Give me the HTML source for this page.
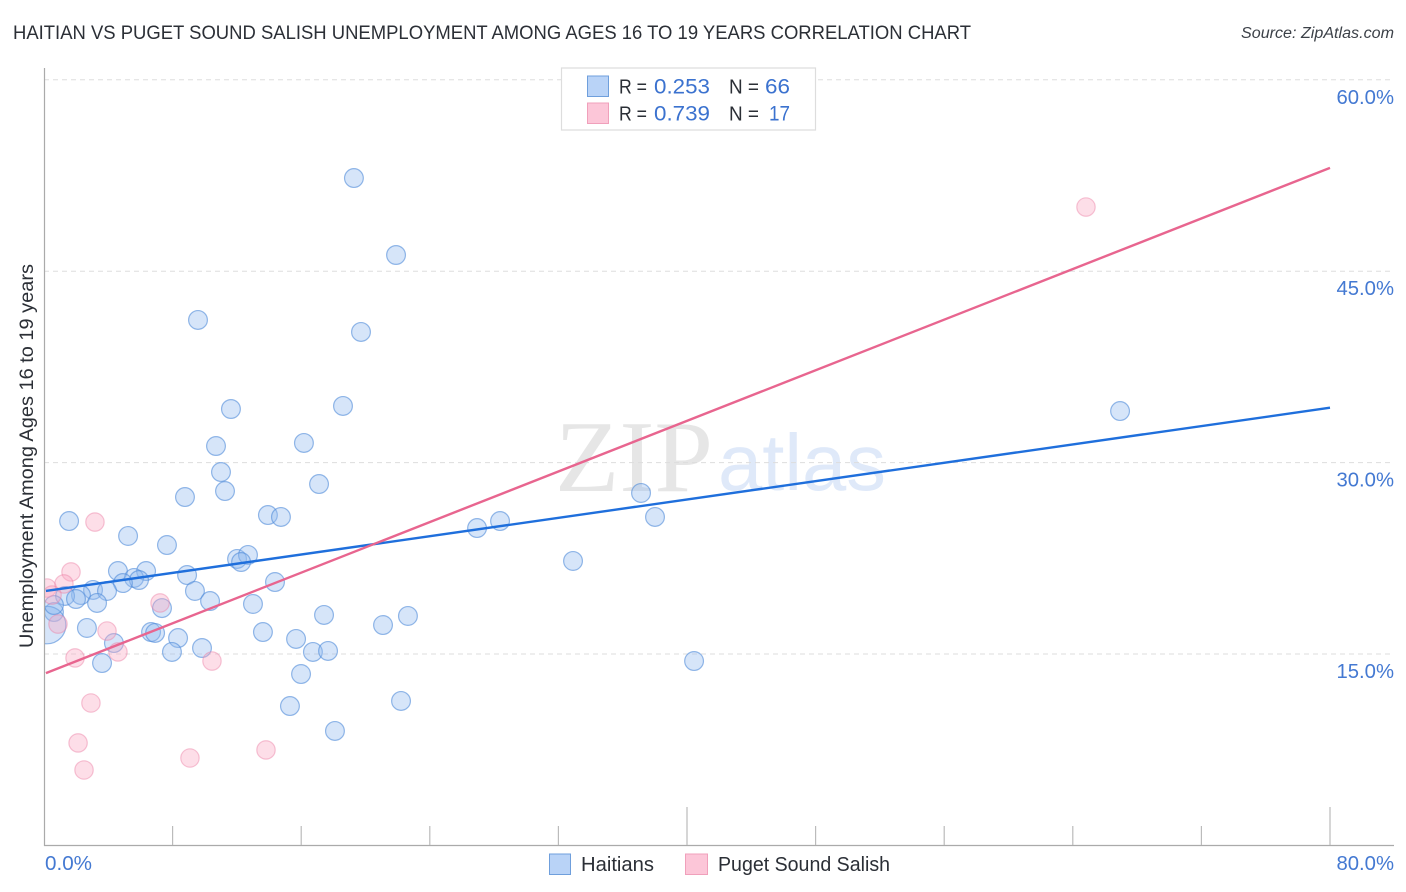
<!DOCTYPE html>
<html lang="en">
<head>
<meta charset="utf-8">
<title>Haitian vs Puget Sound Salish Unemployment Correlation Chart</title>
<style>
html,body{margin:0;padding:0;background:#fff;width:1406px;height:892px;overflow:hidden}
svg{display:block}
text{font-family:"Liberation Sans",sans-serif}
</style>
</head>
<body>
<svg id="chart" xmlns="http://www.w3.org/2000/svg" width="1406" height="892" viewBox="0 0 1406 892">
  <defs><clipPath id="plot-clip"><rect x="44" y="60" width="1350" height="786"/></clipPath></defs>
  <text x="13" y="39" font-size="19.5" fill="#2b2f36" textLength="958" lengthAdjust="spacingAndGlyphs">HAITIAN VS PUGET SOUND SALISH UNEMPLOYMENT AMONG AGES 16 TO 19 YEARS CORRELATION CHART</text>
  <text x="1394" y="38" font-size="15.5" font-style="italic" fill="#3c4148" text-anchor="end" textLength="153" lengthAdjust="spacingAndGlyphs">Source: ZipAtlas.com</text>
  <g id="watermark">
    <text x="555" y="491" style="font-family:'Liberation Serif',serif" font-size="102" fill="#e6e6e6" textLength="158" lengthAdjust="spacingAndGlyphs">ZIP</text>
    <text x="718" y="490" font-size="80" fill="#dfe9f9" textLength="168" lengthAdjust="spacingAndGlyphs">atlas</text>
  </g>
  <g id="grid"></g>
  <g id="points" clip-path="url(#plot-clip)"></g>
  <g id="trends"></g>
  <g id="axes">
    <line x1="44.5" y1="68" x2="44.5" y2="846" stroke="#aaaaaa" stroke-width="1.2"/>
    <line x1="44" y1="845.5" x2="1394" y2="845.5" stroke="#aaaaaa" stroke-width="1.2"/>
  </g>
  <text transform="translate(33,456) rotate(-90)" font-size="19" fill="#2b2f36" text-anchor="middle" textLength="384" lengthAdjust="spacingAndGlyphs">Unemployment Among Ages 16 to 19 years</text>

  <g id="top-legend">
    <rect x="561.5" y="68" width="254" height="62" fill="#fff" stroke="#dddddd" stroke-width="1.2"/>
    <rect x="587.5" y="76" width="21" height="20.5" fill="#b9d3f7" stroke="#6f9fdc" stroke-width="1"/>
    <rect x="587.5" y="103" width="21" height="20.5" fill="#fcc6d8" stroke="#f0a0bb" stroke-width="1"/>
    <text x="619" y="93.5" font-size="20" fill="#2b2f36" textLength="28" lengthAdjust="spacingAndGlyphs">R =</text>
    <text x="654" y="93.5" font-size="21.5" fill="#3b72cf" textLength="56" lengthAdjust="spacingAndGlyphs">0.253</text>
    <text x="729" y="93.5" font-size="20" fill="#2b2f36" textLength="30" lengthAdjust="spacingAndGlyphs">N =</text>
    <text x="765" y="93.5" font-size="21.5" fill="#3b72cf" textLength="25" lengthAdjust="spacingAndGlyphs">66</text>
    <text x="619" y="120.5" font-size="20" fill="#2b2f36" textLength="28" lengthAdjust="spacingAndGlyphs">R =</text>
    <text x="654" y="120.5" font-size="21.5" fill="#3b72cf" textLength="56" lengthAdjust="spacingAndGlyphs">0.739</text>
    <text x="729" y="120.5" font-size="20" fill="#2b2f36" textLength="30" lengthAdjust="spacingAndGlyphs">N =</text>
    <text x="769" y="120.5" font-size="21.5" fill="#3b72cf" textLength="21" lengthAdjust="spacingAndGlyphs">17</text>
  </g>

  <g id="bottom-legend">
    <rect x="549.5" y="854" width="21" height="20.5" fill="#b9d3f7" stroke="#6f9fdc" stroke-width="1"/>
    <text x="581" y="871" font-size="20" fill="#2b2f36" textLength="73" lengthAdjust="spacingAndGlyphs">Haitians</text>
    <rect x="685.5" y="854" width="22" height="20.5" fill="#fcc6d8" stroke="#f0a0bb" stroke-width="1"/>
    <text x="718" y="871" font-size="20" fill="#2b2f36" textLength="172" lengthAdjust="spacingAndGlyphs">Puget Sound Salish</text>
  </g>
</svg>
<script>
const xTickValues = [0, 8, 16, 24, 32, 40, 48, 56, 64, 72, 80];
const xMajorTicks = [40, 80];
const xLabelValues = ["0.0%", "80.0%"];
const yTickValues = [15, 30, 45, 60];
const yTickLabels = ["15.0%", "30.0%", "45.0%", "60.0%"];

const haitianX = [19.28,21.90,9.58,19.72,18.60,11.63,10.70,16.17,11.01,11.26,8.77,17.11,13.93,14.74,1.56,5.23,7.65,4.60,6.35,5.60,5.91,4.91,12.01,12.69,12.26,8.90,14.37,9.39,3.05,3.92,2.30,1.31,1.99,3.30,10.33,13.00,7.34,0.62,17.42,22.64,21.09,13.62,6.66,6.91,8.34,15.68,2.67,4.35,7.96,9.83,16.73,17.67,3.61,15.99,15.30,22.21,18.10,26.94,28.37,32.91,37.14,38.01,40.44,66.94,0.19,0.62];
const haitianY = [52.30,46.27,41.18,40.24,34.44,34.20,31.30,31.54,29.26,27.77,27.30,28.32,25.89,25.74,25.42,24.25,23.54,21.50,21.50,20.96,20.80,20.56,22.45,22.76,22.21,21.19,20.64,19.94,20.02,19.94,19.62,19.55,19.31,19.00,19.15,18.92,18.60,18.29,18.06,17.98,17.27,16.72,16.72,16.65,16.25,16.18,17.04,15.86,15.16,15.47,15.16,15.24,14.29,13.43,10.92,11.32,8.97,24.87,25.42,22.29,27.62,25.74,14.45,34.04,17.27,18.84];
const haitianCounts = [1,1,1,1,1,1,1,1,1,1,1,1,1,1,1,1,1,1,1,1,1,1,1,1,1,1,1,1,1,1,1,1,1,1,1,1,1,1,1,1,1,1,1,1,1,1,1,1,1,1,1,1,1,1,1,1,1,1,1,1,1,1,1,1,4,1];

const pugetX = [64.82,3.17,1.68,1.24,0.19,0.50,7.22,0.87,3.92,4.60,1.93,10.45,2.92,2.12,2.49,9.08,13.81];
const pugetY = [50.03,25.34,21.43,20.49,20.17,19.62,19.00,17.35,16.80,15.16,14.69,14.45,11.16,8.03,5.91,6.85,7.48];

const haitianTrendX = [0.12, 80];
const haitianTrendY = [19.94, 34.3];
const pugetTrendX = [0.12, 80];
const pugetTrendY = [13.5, 53.1];

const SVG_NS = "http://www.w3.org/2000/svg";
function xScale(v) { return 44 + v * 16.075; }
function yScale(v) { return 845.4 - v * 12.76; }
function make(tag, attrs, parent) {
  const el = document.createElementNS(SVG_NS, tag);
  for (const k in attrs) el.setAttribute(k, attrs[k]);
  parent.appendChild(el);
  return el;
}
const gridG = document.getElementById("grid");
const axesG = document.getElementById("axes");
const pointsG = document.getElementById("points");
const trendsG = document.getElementById("trends");

yTickValues.forEach(function (v, i) {
  const gl = make("line", {x1: 44, x2: 1394, y1: yScale(v), y2: yScale(v), stroke: "#dddddd", "stroke-width": 1, "stroke-dasharray": "5 4"}, gridG);
  
  
  const t = make("text", {x: 1394, y: yScale(v) + 24, "font-size": 20.3, fill: "#4479d2", "text-anchor": "end"}, axesG);
  t.textContent = yTickLabels[i];
  
  
});

xTickValues.slice(1).forEach(function (v) {
  const top = xMajorTicks.indexOf(v) >= 0 ? 807 : 826;
  const tk = make("line", {x1: xScale(v), x2: xScale(v), y1: top, y2: 845, stroke: "#bbbbbb", "stroke-width": 1.2}, axesG);
  
  
});

const x0Label = make("text", {x: 45, y: 870, "font-size": 20.3, fill: "#4479d2", textLength: 47, lengthAdjust: "spacingAndGlyphs"}, axesG);
x0Label.textContent = xLabelValues[0];


const x1Label = make("text", {x: 1394, y: 870, "font-size": 20.3, fill: "#4479d2", "text-anchor": "end"}, axesG);
x1Label.textContent = xLabelValues[1];



haitianX.forEach(function (v, i) {
  const c = make("circle", {cx: xScale(v), cy: yScale(haitianY[i]), r: 9.4 * Math.sqrt(haitianCounts[i]), fill: "#93bbf0", "fill-opacity": 0.38, stroke: "#4f8ad8", "stroke-opacity": 0.6, "stroke-width": 1.2}, pointsG);
  
  
});
pugetX.forEach(function (v, i) {
  const c = make("circle", {cx: xScale(v), cy: yScale(pugetY[i]), r: 9.2, fill: "#f9a9c2", "fill-opacity": 0.38, stroke: "#ec7fa3", "stroke-opacity": 0.45, "stroke-width": 1.2}, pointsG);
  
  
});

const blueLine = make("line", {x1: xScale(haitianTrendX[0]), y1: yScale(haitianTrendY[0]), x2: xScale(haitianTrendX[1]), y2: yScale(haitianTrendY[1]), stroke: "#1f6fdc", "stroke-width": 2.4}, trendsG);


const pinkLine = make("line", {x1: xScale(pugetTrendX[0]), y1: yScale(pugetTrendY[0]), x2: xScale(pugetTrendX[1]), y2: yScale(pugetTrendY[1]), stroke: "#e8658f", "stroke-width": 2.4}, trendsG);


</script>
</body>
</html>
